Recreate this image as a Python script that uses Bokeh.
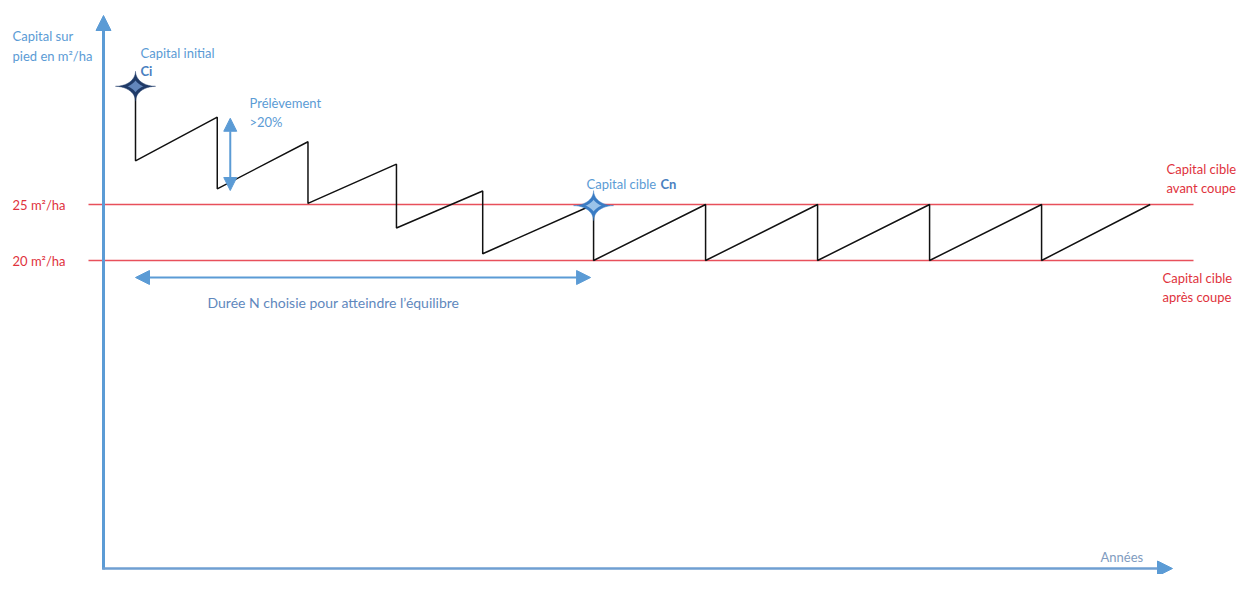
import numpy as np
from bokeh.plotting import figure
from bokeh.models import Range1d, Arrow, NormalHead
from bokeh.core.properties import value
from bokeh.embed import file_html
from bokeh.resources import INLINE

# ---------------- data (years, m²/ha) ----------------
cut_years = [0, 7.3, 15.4, 23.3, 31.0, 40.9, 50.9, 60.9, 70.9, 80.9]
before_cut = [35.4, 32.8, 30.6, 28.6, 26.2, 25.0, 25.0, 25.0, 25.0, 25.0]
after_cut = [28.9, 26.4, 25.1, 22.9, 20.6, 20.0, 20.0, 20.0, 20.0, 20.0]
end_year = [90.6]
end_value = [25.0]
target_levels = [25, 20]
target_labels = ["25 m²/ha", "20 m²/ha"]
target_names_top = ["Capital cible", "Capital cible"]
target_names_bottom = ["avant coupe", "après coupe"]

# ---------------- layout helpers ----------------
PX = 11.2          # pixels per unit on both axes
W, H = 1240, 574


def X(px):  # picture pixel -> year
    return (px - 135) / PX


def Y(py):  # picture pixel -> m²/ha
    return 25 + (204 - py) / PX


FONT = value("Lato")
BLUE = "#5b9bd5"
RED = "#e8505b"
RED_TXT = "#e0323c"

p = figure(width=W, height=H, x_range=Range1d(X(0), X(W)), y_range=Range1d(Y(H), Y(0)),
           x_axis_type=None, y_axis_type=None, toolbar_location=None,
           output_backend="svg", min_border=0)
p.grid.visible = False
p.outline_line_color = None
p.background_fill_color = "white"
p.border_fill_color = "white"

# axes as arrows
ax_x, ax_y = X(103), Y(568)
p.add_layout(Arrow(end=NormalHead(size=15, fill_color=BLUE, line_color=BLUE),
                   x_start=ax_x, y_start=ax_y - 0.1, x_end=ax_x, y_end=Y(15),
                   line_color=BLUE, line_width=3))
p.add_layout(Arrow(end=NormalHead(size=15, fill_color=BLUE, line_color=BLUE),
                   x_start=ax_x - 0.1, y_start=ax_y, x_end=X(1172), y_end=ax_y,
                   line_color="#6f9fd2", line_width=2.5))

# target levels
p.segment(x0=[X(88)] * len(target_levels), y0=target_levels,
          x1=[X(1193)] * len(target_levels), y1=target_levels,
          line_color=RED, line_width=1.6)

# sawtooth
xs, ys = [], []
for t, b, a in zip(cut_years, before_cut, after_cut):
    xs += [t, t]
    ys += [b, a]
xs += end_year
ys += end_value
p.line(xs, ys, line_color="#111111", line_width=1.5)

# "Prélèvement" double arrow at second cut
va_x = cut_years[1] + 13 / PX
p.add_layout(Arrow(start=NormalHead(size=13, fill_color=BLUE, line_color=BLUE),
                   end=NormalHead(size=13, fill_color=BLUE, line_color=BLUE),
                   x_start=va_x, y_start=after_cut[1] - 0.15, x_end=va_x, y_end=before_cut[1] - 0.1,
                   line_color=BLUE, line_width=2))

# equilibrium index
i_eq = next(i for i, (b, a) in enumerate(zip(before_cut, after_cut))
            if b == target_levels[0] and a == target_levels[1])

# duration double arrow
ha_y = target_levels[1] - 17 / PX
p.add_layout(Arrow(start=NormalHead(size=14, fill_color=BLUE, line_color=BLUE),
                   end=NormalHead(size=14, fill_color=BLUE, line_color=BLUE),
                   x_start=cut_years[0], y_start=ha_y, x_end=cut_years[i_eq] - 3 / PX, y_end=ha_y,
                   line_color=BLUE, line_width=2))


# stars
def star(cx, cy, rx, ry, pw=3.6):
    t = np.linspace(0, 2 * np.pi, 241)
    c, s = np.cos(t), np.sin(t)
    return (cx + rx / PX * np.sign(c) * np.abs(c) ** pw,
            cy + ry / PX * np.sign(s) * np.abs(s) ** pw)


for (cx, cy), outer, inner in [((cut_years[0], before_cut[0] + 0.15), "#1f3a68", "#6a8fc4"),
                               ((cut_years[i_eq], before_cut[i_eq] - 0.1), "#3a7cc4", "#a6cbed")]:
    sx, sy = star(cx, cy, 20, 15)
    p.patch(sx, sy, fill_color=outer, line_color=outer, line_width=0.5)
    sx, sy = star(cx, cy, 8, 6, 2.5)
    p.patch(sx, sy, fill_color=inner, line_color=None, fill_alpha=0.9)


def txt(x, y, s, color=BLUE, size="13px", style="normal", align="left"):
    p.text(x=[x], y=[y], text=[s], text_font=FONT, text_font_size=size,
           text_color=color, text_align=align, text_baseline="middle", text_font_style=style)


# texts
txt(X(12), Y(35), "Capital sur")
txt(X(12), Y(55), "pied en m²/ha")
txt(X(140), Y(52), "Capital initial")
txt(X(140), Y(70), "Ci", color="#4a7fbf", style="bold")
txt(X(249), Y(102), "Prélèvement")
txt(X(249), Y(121), ">20%")
txt(X(586), Y(183), "Capital cible")
txt(X(660), Y(183), "Cn", color="#4a7fbf", style="bold")
txt(X(207), Y(302), "Durée N choisie pour atteindre l’équilibre", color="#5f88bd", size="14px")
txt(X(1100), Y(556), "Années", color="#7f9cc0", size="13px")

for lvl, lab in zip(target_levels, target_labels):
    txt(X(12), lvl, lab, color=RED_TXT, size="13px")

for lvl, top, bot, x0, dy in zip(target_levels, target_names_top, target_names_bottom,
                                 [1166, 1162], [-36, 17]):
    y_top = Y(204 + (lvl - 25) * -PX + dy)
    txt(X(x0), y_top, top, color=RED_TXT, size="13px")
    txt(X(x0), y_top - 19 / PX, bot, color=RED_TXT, size="13px")

open("out.html", "w").write(file_html(p, INLINE))
